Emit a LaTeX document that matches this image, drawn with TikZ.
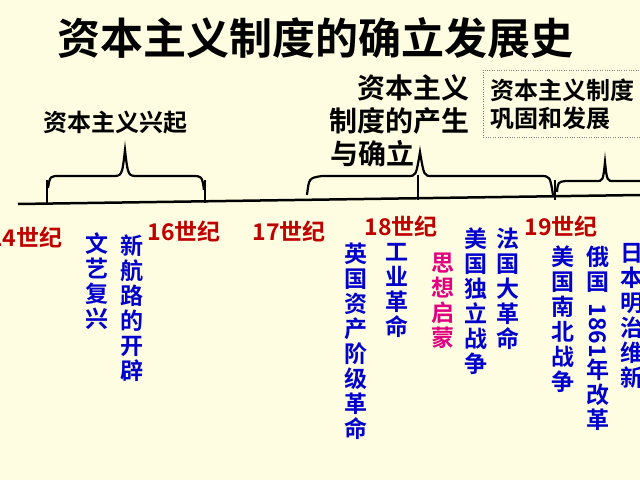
\documentclass[tikz,border=0pt]{standalone}
\usepackage{fontspec}
\setmainfont{Noto Sans CJK SC}[BoldFont={* Bold}]
\begin{document}
\begin{tikzpicture}[x=1pt,y=-1pt,
  cent/.style={text=red!75!black,font=\bfseries\fontsize{23}{24}\selectfont,inner sep=0},
  vt/.style={text=blue!80!black,font=\bfseries\fontsize{23}{25}\selectfont,align=center,anchor=north,inner sep=0},
  brace/.style={line width=2.2pt},
  mid/.style={font=\bfseries\fontsize{28}{33}\selectfont,inner sep=0},
  ax/.style={line width=2.5pt}]
\useasboundingbox[fill={rgb,255:red,255;green,253;blue,225}] (0,0) rectangle (640,480);
\node[font=\bfseries\fontsize{43}{45}\selectfont] (title) at (315,38) {资本主义制度的确立发展史};
% axis
\coordinate (a0) at (18,204); \coordinate (a1) at (640,195);
\draw[ax] (a0) -- (a1);
\draw[brace] (47,205) -- (47,180);
\draw[brace] (205,203) -- (205,180);
\draw[brace] (418,200) -- (418,175);
\draw[brace] (555,200) -- (555,180);
% braces
\draw[brace] (48,188) .. controls (50,176) .. (60,176) -- (112,176) .. controls (122,176) .. (125,150) .. controls (128,176) .. (138,176) -- (192,176) .. controls (202,176) .. (204,190);
\draw[brace] (307,195) .. controls (309,178) .. (322,176) -- (408,176) .. controls (416,176) .. (420,152) .. controls (424,176) .. (432,176) -- (540,176) .. controls (550,176) .. (553,195);
\draw[brace] (557,192) .. controls (558,182) .. (566,181) -- (596,181) .. controls (603,181) .. (605,162) .. controls (607,181) .. (614,181) -- (640,181);
% labels
\node[font=\bfseries\fontsize{24}{26}\selectfont] (l1) at (115,123) {资本主义兴起};
\node[mid,anchor=east] (l2a) at (470,88) {资本主义};
\node[mid,anchor=east] (l2b) at (470,121) {制度的产生};
\node[mid,anchor=west] (l2c) at (330,154) {与确立};
\draw[dotted,gray] (483,70) rectangle (645,137);
\node[font=\bfseries\fontsize{24}{28}\selectfont,align=left,anchor=west] (l3) at (487,104) {资本主义制度\\巩固和发展};
% centuries
\node[cent] (c14) at (26,237) {14世纪};
\node[cent] (c16) at (184,231) {16世纪};
\node[cent] (c17) at (289,231) {17世纪};
\node[cent] (c18) at (401,226) {18世纪};
\node[cent] (c19) at (561,226) {19世纪};
% events
\node[vt] (e1) at (97,233) {文\\艺\\复\\兴};
\node[vt] (e2) at (132,235) {新\\航\\路\\的\\开\\辟};
\node[vt] (e3) at (356,243) {英\\国\\资\\产\\阶\\级\\革\\命};
\node[vt] (e4) at (397,243) {工\\业\\革\\命};
\node[vt,text={rgb,255:red,225;green,0;blue,128}] (e5) at (443,253) {思\\想\\启\\蒙};
\node[vt] (e6) at (476,228) {美\\国\\独\\立\\战\\争};
\node[vt] (e7) at (508,228) {法\\国\\大\\革\\命};
\node[vt] (e8) at (563,246) {美\\国\\南\\北\\战\\争};
\node[vt] (e9) at (598,246) {俄\\国\\[-12pt]\rotatebox{-90}{1861}\\年\\改\\革};
\node[vt] (e10) at (632,243) {日\\本\\明\\治\\维\\新};
\end{tikzpicture}
\end{document}
